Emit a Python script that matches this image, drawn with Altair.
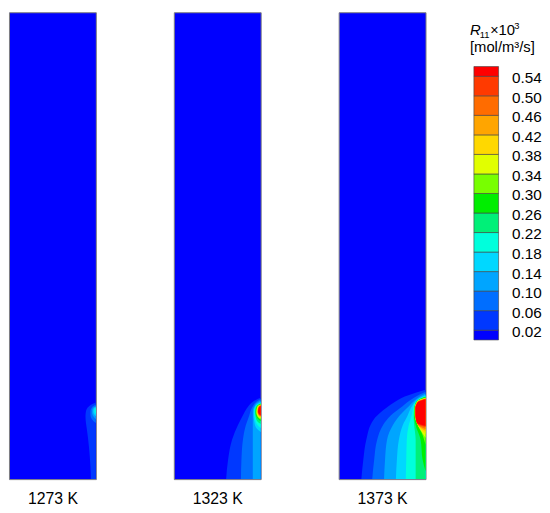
import altair as alt
import pandas as pd

# ---------------- values ----------------
PANEL_LABELS = ["1273 K", "1323 K", "1373 K"]
LEVELS = ["0.02", "0.06", "0.10", "0.14", "0.18", "0.22", "0.26",
          "0.30", "0.34", "0.38", "0.42", "0.46", "0.50", "0.54"]
BANDS = ["<0.02"] + LEVELS
TICKS = [0.02, 0.06, 0.10, 0.14, 0.18, 0.22, 0.26, 0.30, 0.34, 0.38, 0.42, 0.46, 0.50, 0.54]
BOUNDS = [0.00] + TICKS + [0.56]
COLORS = ["#0000ff", "#0038ff", "#006eff", "#00a5ff", "#00d8ff", "#00ffdc", "#00f078",
          "#00ee00", "#78ff00", "#e1ff00", "#ffd800", "#ffa500", "#ff6c00", "#ff3a00", "#ff0000"]

R_WALL = 88      # radial extent of each panel (wall at the right)
H_TOP = 475      # height extent of each panel

# contour regions: level -> (heights, left edge of region at that height)
P1273 = {
    "0.02": ([0, 13, 33, 50, 57, 64, 69, 73, 76, 78], [83, 82.5, 81, 79, 78, 77.5, 78, 80, 83.5, 88]),
    "0.06": ([57, 61, 65, 69, 72, 74.5, 76], [88, 84, 82.5, 82.5, 83.5, 85.5, 88]),
    "0.10": ([61, 64, 67, 70, 72.5, 74.5], [88, 85.5, 84.3, 84.3, 85.3, 88]),
    "0.14": ([64, 66, 68, 70.5, 72.3, 73.5], [88, 86.3, 85.5, 85.6, 86.4, 88]),
    "0.18": ([66, 67.5, 69, 70.5, 71.8, 72.6], [88, 87.2, 86.7, 86.8, 87.3, 88]),
}
P1323 = {
    "0.02": ([0, 20, 40, 55, 65, 72, 77, 80.5, 82.7], [53, 55, 59, 65, 70, 74, 78, 83, 88]),
    "0.06": ([0, 20, 40, 55, 65, 70, 75, 79, 81.5], [68, 68.5, 70, 73, 76.5, 78, 80.5, 84, 88]),
    "0.10": ([0, 20, 40, 55, 65, 70, 74, 77.5, 80], [80, 80, 80, 80, 80, 80, 81.5, 84, 88]),
    "0.14": ([48, 53, 60, 66, 70, 73.5, 76.5, 78.5], [88, 83, 81.3, 80.8, 81, 82, 84.5, 88]),
    "0.18": ([52, 56, 62, 67, 70, 73.5, 76, 77.8], [88, 84, 82.2, 81.6, 81.7, 82.6, 84.8, 88]),
    "0.22": ([56, 59, 63.5, 67.5, 70, 73.3, 75.6, 77.2], [88, 84.5, 82.8, 82.2, 82.3, 83.1, 85, 88]),
    "0.26": ([59, 61.5, 64.5, 68, 70, 73, 75.2, 76.7], [88, 85, 83.4, 82.9, 83, 83.7, 85.3, 88]),
    "0.30": ([60.5, 62.5, 65, 68, 70, 72.8, 75, 76.3], [88, 85.4, 84, 83.4, 83.5, 84.1, 85.6, 88]),
    "0.34": ([61.5, 63.3, 65.5, 68, 70, 72.6, 74.8, 76], [88, 85.7, 84.4, 83.9, 84, 84.5, 85.9, 88]),
    "0.38": ([62.5, 64, 66, 68.3, 70, 72.4, 74.6, 75.7], [88, 86, 84.8, 84.4, 84.5, 84.9, 86.1, 88]),
    "0.42": ([63.2, 64.6, 66.4, 68.5, 70, 72.3, 74.4, 75.4], [88, 86.2, 85.1, 84.7, 84.8, 85.2, 86.3, 88]),
    "0.46": ([63.8, 65, 66.8, 68.7, 70, 72.2, 74.2, 75.1], [88, 86.4, 85.4, 85, 85.1, 85.5, 86.5, 88]),
    "0.50": ([64.3, 65.4, 67, 68.8, 70, 72.1, 74, 74.8], [88, 86.6, 85.6, 85.2, 85.3, 85.7, 86.7, 88]),
    "0.54": ([64.8, 65.8, 67.3, 69, 70, 72, 73.8, 74.5], [88, 86.8, 85.8, 85.4, 85.5, 85.9, 86.9, 88]),
}
P1373 = {
    "0.02": ([0, 20, 40, 60, 70, 78, 84, 88, 91], [23, 25, 28, 35, 45, 56, 67, 78, 88]),
    "0.06": ([0, 20, 40, 55, 65, 72, 80, 86, 89], [34, 36, 39, 45, 53, 62, 72, 82, 88]),
    "0.10": ([0, 20, 40, 55, 65, 72, 80, 85, 87], [46, 47, 49, 55, 62, 69, 77, 84, 88]),
    "0.14": ([0, 20, 40, 55, 65, 72, 78, 83, 85.5], [58, 59, 61, 65, 70, 73, 77, 83, 88]),
    "0.18": ([0, 20, 40, 55, 65, 72, 78, 82, 84.5], [68, 68.5, 69, 71, 74, 75.5, 77.5, 82, 88]),
    "0.22": ([0, 20, 40, 55, 65, 72, 78, 81.5, 84], [78, 78, 78, 76.5, 76, 76.5, 78, 82, 88]),
    "0.26": ([8, 20, 40, 55, 65, 72, 78, 81, 83.5], [88, 85, 83, 78, 76.5, 76.8, 78.5, 82, 88]),
    "0.30": ([35, 45, 55, 65, 72, 78, 81, 83], [88, 85, 80, 77, 77, 79, 82.5, 88]),
    "0.34": ([42, 50, 58, 65, 72, 78, 81, 82.5], [88, 83, 79, 77.2, 77.2, 79, 83, 88]),
    "0.38": ([46, 52, 60, 66, 72, 78, 81, 82.3], [88, 82, 78.5, 77.4, 77.4, 79.2, 83, 88]),
    "0.42": ([49, 54, 61, 67, 72, 78, 80.5, 82], [88, 81, 78.3, 77.5, 77.5, 79.4, 83.5, 88]),
    "0.46": ([51, 55, 62, 67, 72, 78, 80.5, 81.8], [88, 80.5, 78.2, 77.6, 77.6, 79.6, 83.5, 88]),
    "0.50": ([53, 56, 62, 67, 72, 78, 80.2, 81.5], [88, 80, 78.1, 77.7, 77.7, 79.8, 83.8, 88]),
    "0.54": ([54, 57, 63, 68, 72, 78, 80, 81.2], [88, 79.5, 78, 77.8, 77.8, 80, 84, 88]),
}
PANELS = [P1273, P1323, P1373]

FONT = "Liberation Sans"
COLOR_SCALE = alt.Scale(domain=BANDS, range=COLORS)
X_SCALE = alt.Scale(domain=[0, R_WALL], nice=False, zero=True)
Y_SCALE = alt.Scale(domain=[0, H_TOP], nice=False, zero=True)
VIEW = alt.ViewBackground(fill=COLORS[0], stroke="#7f7f7f", strokeWidth=1)


def contour_frame(contours):
    rows = []
    for lev in LEVELS:
        if lev not in contours:
            continue
        hs, xs = contours[lev]
        for h, x in zip(hs, xs):
            rows.append({"level": lev, "h": h, "x": x, "xr": R_WALL})
    return pd.DataFrame(rows)


def x_axis(label):
    return alt.Axis(title=label, labels=False, ticks=False, domain=False, grid=False,
                    titleFontSize=16, titleFontWeight="normal", titlePadding=12,
                    titleColor="#000000")


def panel(contours, label):
    df = contour_frame(contours)
    return alt.Chart(df).mark_area(orient="horizontal", interpolate="monotone").encode(
        y=alt.Y("h:Q", scale=Y_SCALE, axis=None),
        x=alt.X("x:Q", scale=X_SCALE, axis=x_axis(label), stack=False),
        x2="xr:Q",
        color=alt.Color("level:N", scale=COLOR_SCALE, legend=None),
    ).properties(width=88, height=473, view=VIEW)


panels = alt.hconcat(*[panel(p, lab) for p, lab in zip(PANELS, PANEL_LABELS)], spacing=77)

leg_df = pd.DataFrame({"lo": BOUNDS[:-1], "hi": BOUNDS[1:], "band": BANDS})
bar = alt.Chart(leg_df).mark_rect(stroke="#404040", strokeWidth=0.6).encode(
    x=alt.value(28), x2=alt.value(53),
    y=alt.Y("lo:Q", scale=alt.Scale(domain=[0, 0.56], range=[332, 55], nice=False, zero=True),
            axis=alt.Axis(orient="right", values=TICKS, format=".2f", labelFontSize=15.5,
                          labelColor="#000000", ticks=False, domain=False, grid=False,
                          labelPadding=13, labelOffset=1.5, title=None)),
    y2="hi:Q",
    color=alt.Color("band:N", scale=COLOR_SCALE, legend=None),
)


def txt(s, x, y, size, style="normal"):
    return alt.Chart(pd.DataFrame({"t": [s]})).mark_text(
        align="left", baseline="alphabetic", fontSize=size, fontStyle=style, color="#000000"
    ).encode(x=alt.value(x), y=alt.value(y), text="t:N")


legend = alt.layer(
    bar,
    txt("R", 24, 23.3, 15, "italic"),
    txt("11", 34, 26.5, 9.5),
    txt("×", 44.5, 23.3, 14.5),
    txt("10", 53, 23.3, 15),
    txt("3", 69, 17, 9.5),
    txt("[mol/m³/s]", 24, 40.5, 15),
).properties(width=53, height=473)

chart = alt.hconcat(panels, legend, spacing=20).properties(padding=0).configure(
    font=FONT
).configure_view(strokeWidth=0)

chart.save("out.html", embed_options={"renderer": "svg", "actions": False})
